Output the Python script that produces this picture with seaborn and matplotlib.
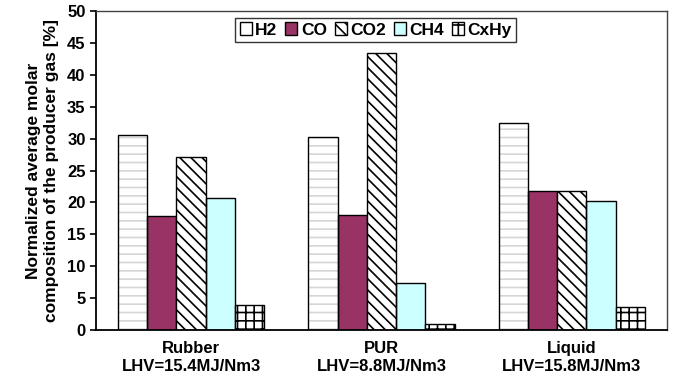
import matplotlib
matplotlib.use("Agg")
import matplotlib.pyplot as plt
from matplotlib.patches import Rectangle, Patch
import seaborn as sns
import pandas as pd

categories = ["Rubber\nLHV=15.4MJ/Nm3", "PUR\nLHV=8.8MJ/Nm3", "Liquid\nLHV=15.8MJ/Nm3"]
gases = ["H2", "CO", "CO2", "CH4", "CxHy"]
h2 = [30.5, 30.3, 32.5]
co = [17.8, 18.0, 21.8]
co2 = [27.2, 43.4, 21.8]
ch4 = [20.7, 7.4, 20.2]
cxhy = [4.0, 1.0, 3.6]

rows = []
for gas, vals in zip(gases, [h2, co, co2, ch4, cxhy]):
    for cat, v in zip(categories, vals):
        rows.append({"sample": cat, "gas": gas, "value": v})
df = pd.DataFrame(rows)

sns.set_theme(style="white")
plt.rcParams["font.family"] = ["Liberation Sans", "DejaVu Sans"]
plt.rcParams["font.weight"] = "bold"
plt.rcParams["hatch.linewidth"] = 1.2
for key in ["text.color", "axes.labelcolor", "xtick.color", "ytick.color"]:
    plt.rcParams[key] = "black"

styles = {
    "H2":   dict(face="white",   hatch="--",   hcolor="#d6d6d6"),
    "CO":   dict(face="#993366", hatch=None,   hcolor="black"),
    "CO2":  dict(face="white",   hatch="\\\\\\", hcolor="black"),
    "CH4":  dict(face="#ccffff", hatch=None,   hcolor="black"),
    "CxHy": dict(face="white",   hatch="++",   hcolor="black"),
}

fig = plt.figure(figsize=(6.74, 3.82), dpi=100)
ax = fig.add_axes([0.1424, 0.136, 0.8472, 0.835])

sns.barplot(data=df, x="sample", y="value", hue="gas", hue_order=gases,
            order=categories, width=0.77, gap=0, ax=ax, legend=False,
            errorbar=None, saturation=1)

for gas, cont in zip(gases, ax.containers):
    st = styles[gas]
    for p in cont.patches:
        p.set_facecolor(st["face"])
        if st["hatch"]:
            p.set_edgecolor(st["hcolor"])
            p.set_linewidth(0)
            p.set_hatch(st["hatch"])
            # crisp black outline around the hatched bar
            ax.add_patch(Rectangle(p.get_xy(), p.get_width(), p.get_height(),
                                   fill=False, edgecolor="black", linewidth=1.0,
                                   zorder=p.get_zorder() + 0.1))
        else:
            p.set_edgecolor("black")
            p.set_linewidth(1.0)

ax.set_ylim(0, 50)
ax.set_xlim(-0.5, 2.5)
ax.set_yticks(range(0, 51, 5))
ax.set_xticks(range(len(categories)))
ax.set_xticklabels(categories, fontsize=12, fontweight="bold")
ax.set_xticks([-0.5, 0.5, 1.5, 2.5], minor=True)
ax.tick_params(axis="x", which="major", length=0, pad=8)
ax.tick_params(axis="x", which="minor", length=4, width=1.2, direction="out", color="black")
ax.tick_params(axis="y", length=4, width=1.2, direction="out", color="black", labelsize=12, left=True)
for lbl in ax.get_yticklabels():
    lbl.set_fontweight("bold")
ax.set_xlabel("")
ax.set_ylabel("Normalized average molar\ncomposition of the producer gas [%]",
              fontsize=12.5, fontweight="bold", labelpad=6)

for side in ["left", "bottom"]:
    ax.spines[side].set_color("black")
    ax.spines[side].set_linewidth(1.3)
for side in ["top", "right"]:
    ax.spines[side].set_color("#444444")
    ax.spines[side].set_linewidth(1.0)

handles = []
for gas in gases:
    st = styles[gas]
    hatch = st["hatch"]
    if gas == "H2":
        hatch = None
    elif hatch == "++":
        hatch = "+"
    handles.append(Patch(facecolor=st["face"], edgecolor="black", hatch=hatch,
                         linewidth=1.0))
leg = ax.legend(handles, gases, loc="upper center", bbox_to_anchor=(0.49, 0.978),
                ncol=5, frameon=True, fancybox=False, fontsize=12.5,
                handlelength=0.7, handleheight=0.7, handletextpad=0.2,
                columnspacing=0.45, borderpad=0.25, borderaxespad=0)
leg.get_frame().set_edgecolor("black")
leg.get_frame().set_linewidth(1.0)
for t in leg.get_texts():
    t.set_fontweight("bold")

fig.savefig("out.png", dpi=100)
